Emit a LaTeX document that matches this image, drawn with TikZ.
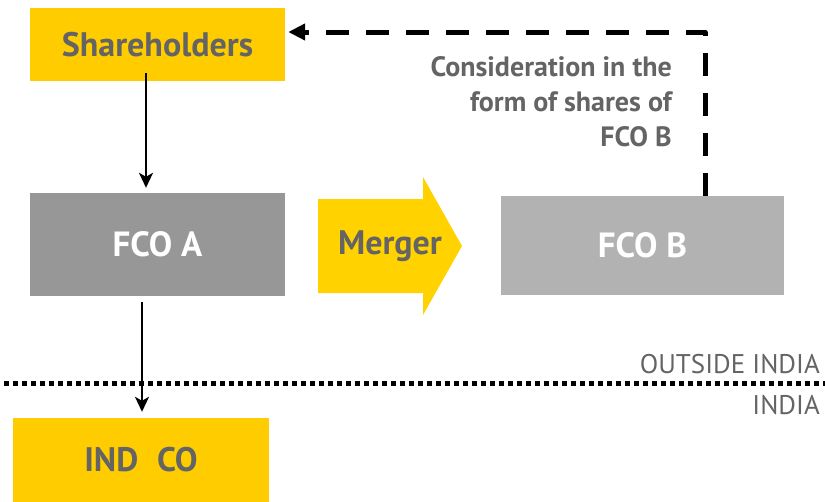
\documentclass[tikz,border=0pt]{standalone}
\usepackage{fontspec}
\setmainfont{PT Sans}
\usepackage{xcolor}
\usetikzlibrary{arrows.meta}

\definecolor{boxyellow}{HTML}{FFCC00}
\definecolor{mergeyellow}{HTML}{FFD200}
\definecolor{darkgrey}{HTML}{979797}
\definecolor{lightgrey}{HTML}{B2B2B2}
\definecolor{textgrey}{HTML}{646464}

\tikzset{
    yellowbox/.style={fill=boxyellow, text=textgrey, inner sep=0pt,
        font=\fontsize{34}{36}\selectfont\bfseries},
    greybox/.style={text=white, inner sep=0pt,
        font=\fontsize{35}{37}\selectfont\bfseries},
    solidarrow/.style={line width=2.2pt, -{Stealth[length=15pt,width=14pt,inset=4pt]}},
    dasharrow/.style={line width=5pt, dash pattern=on 23pt off 17pt,
        line join=round, -{Triangle[length=17pt,width=16pt]}},
    dotline/.style={line width=5pt, dash pattern=on 5pt off 4pt},
    regionlabel/.style={text=textgrey, inner sep=0pt,
        font=\fontsize{27}{29}\selectfont}
}

\begin{document}
\begin{tikzpicture}[x=1pt,y=-1pt]
        \useasboundingbox (0,0) rectangle (825,501);

        % Companies
        \draw (157.5,44.5) node[yellowbox, minimum width=255pt, minimum height=73pt] (sh) {Shareholders};
        \draw (157.5,244.5) node[greybox, fill=darkgrey, minimum width=255pt, minimum height=103pt] (fcoa) {FCO A};
        \draw (642.5,245.5) node[greybox, fill=lightgrey, minimum width=283pt, minimum height=99pt] (fcob) {FCO B};
        \draw (141,460) node[yellowbox, minimum width=256pt, minimum height=84pt] (ind) {IND\hspace{0.55em}CO};

        % Merger arrow
        \fill[mergeyellow] (318,199) -- (423,199) -- (423,177) -- (462,246)
            -- (423,315) -- (423,293) -- (318,293) -- cycle;
        \draw (390,246) node[text=textgrey, font=\fontsize{34}{36}\selectfont\bfseries] (mg) {Merger};

        % Shareholding lines
        \draw[solidarrow] ([xshift=-11.5pt,yshift=8pt]sh.south) -- ([xshift=-11.5pt,yshift=5pt]fcoa.north);
        \draw[solidarrow] ([xshift=-15.5pt,yshift=-6pt]fcoa.south) -- ([xshift=1pt,yshift=6pt]ind.north);

        % Consideration back to shareholders
        \draw[dasharrow] ([xshift=62.5pt]fcob.north) |- ([xshift=3pt,yshift=12.5pt]sh.east);
        \draw (672,56) node[anchor=north east, align=right, text=textgrey, inner sep=0pt,
            font=\fontsize{28}{35}\selectfont\bfseries] (cons)
            {Consideration in the\\form of shares of\\FCO B};

        % Border
        \draw[dotline] (4,383) -- (825,383);
        \draw (820,364) node[regionlabel, anchor=east] (out) {OUTSIDE INDIA};
        \draw (820,405) node[regionlabel, anchor=east] (in) {INDIA};

    \end{tikzpicture}
\end{document}
